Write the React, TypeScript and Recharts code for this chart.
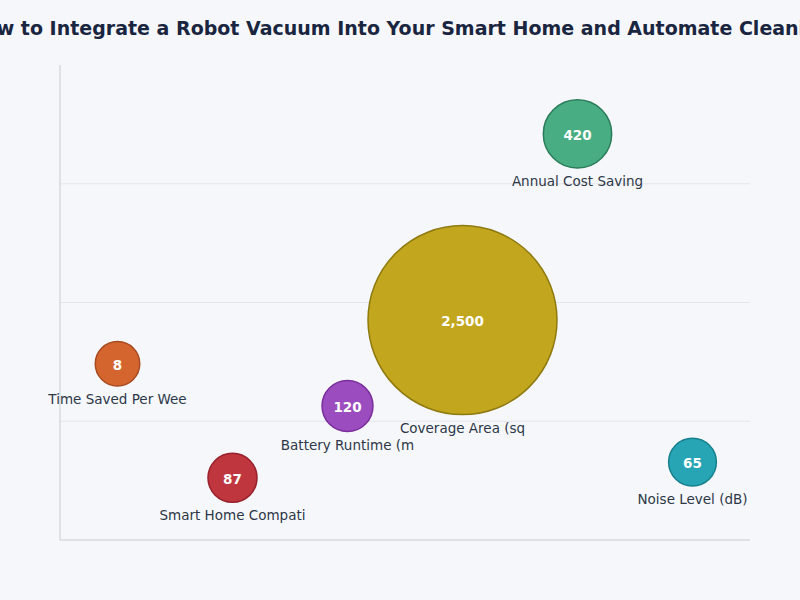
import React from "react";
import { ScatterChart, Scatter, XAxis, YAxis, CartesianGrid } from "recharts";

const TITLE = "How to Integrate a Robot Vacuum Into Your Smart Home and Automate Cleaning";

const categories = [
  "Time Saved Per Week (hrs)",
  "Smart Home Compatibility (%)",
  "Battery Runtime (min)",
  "Coverage Area (sq ft)",
  "Annual Cost Savings ($)",
  "Noise Level (dB)",
];
const values = [8, 87, 120, 2500, 420, 65];
// vertical placement of each bubble (0-100 band)
const yPositions = [37.1, 13.1, 28.2, 46.3, 85.5, 16.4];
const fills = ["#d4652f", "#c0363f", "#9b4dbf", "#c2a61e", "#48ad82", "#28a5b5"];
const strokes = ["#a84a1f", "#98222c", "#7a2e9c", "#8f7a10", "#2a7d5a", "#17808e"];

const data = categories.map((name, i) => ({
  name,
  value: values[i],
  y: yPositions[i],
  fill: fills[i],
  stroke: strokes[i],
}));

const maxVal = Math.max(...values);
const radiusOf = (v: number) => 22 + 72.5 * (v / maxVal);

const Bubble = (props: any) => {
  const { cx, cy, payload } = props;
  const r = radiusOf(payload.value);
  return (
    <g>
      <circle cx={cx} cy={cy} r={r} fill={payload.fill} stroke={payload.stroke} strokeWidth={1.5} />
      <text x={cx} y={cy + 1} textAnchor="middle" dominantBaseline="central" fill="#fff"
        style={{ fontFamily: "DejaVu Sans", fontWeight: "bold", fontSize: 13.5 }}>
        {payload.value.toLocaleString("en-US")}
      </text>
      <text x={cx} y={cy + r + 13} textAnchor="middle" dominantBaseline="central" fill="#2d3748"
        style={{ fontFamily: "DejaVu Sans", fontSize: 13.5 }}>
        {payload.name.slice(0, 18)}
      </text>
    </g>
  );
};

export default function App() {
  return (
    <div style={{ position: "absolute", left: 0, top: 0, width: 800, height: 600, background: "#f5f7fa", overflow: "hidden" }}>
      <div style={{ position: "absolute", left: 0, top: 17, width: 800, display: "flex", justifyContent: "center",
        whiteSpace: "nowrap", fontFamily: "DejaVu Sans", fontWeight: "bold", fontSize: 19, color: "#1a2540" }}>
        {TITLE}
      </div>
      <ScatterChart width={800} height={600} margin={{ top: 65, right: 50, bottom: 59, left: 59 }}>
        <CartesianGrid vertical={false} horizontalValues={[25, 50, 75]} stroke="#e3e6eb" />
        <XAxis dataKey="name" type="category" allowDuplicatedCategory={false} tickFormatter={() => ""} tickLine={false}
          height={1} axisLine={{ stroke: "#c8cbd0" }} />
        <YAxis dataKey="y" type="number" domain={[0, 100]} ticks={[0, 25, 50, 75]} tickFormatter={() => ""} tickLine={false}
          width={1} axisLine={{ stroke: "#c8cbd0" }} />
        <Scatter data={data} shape={<Bubble />} isAnimationActive={false} />
      </ScatterChart>
    </div>
  );
}
